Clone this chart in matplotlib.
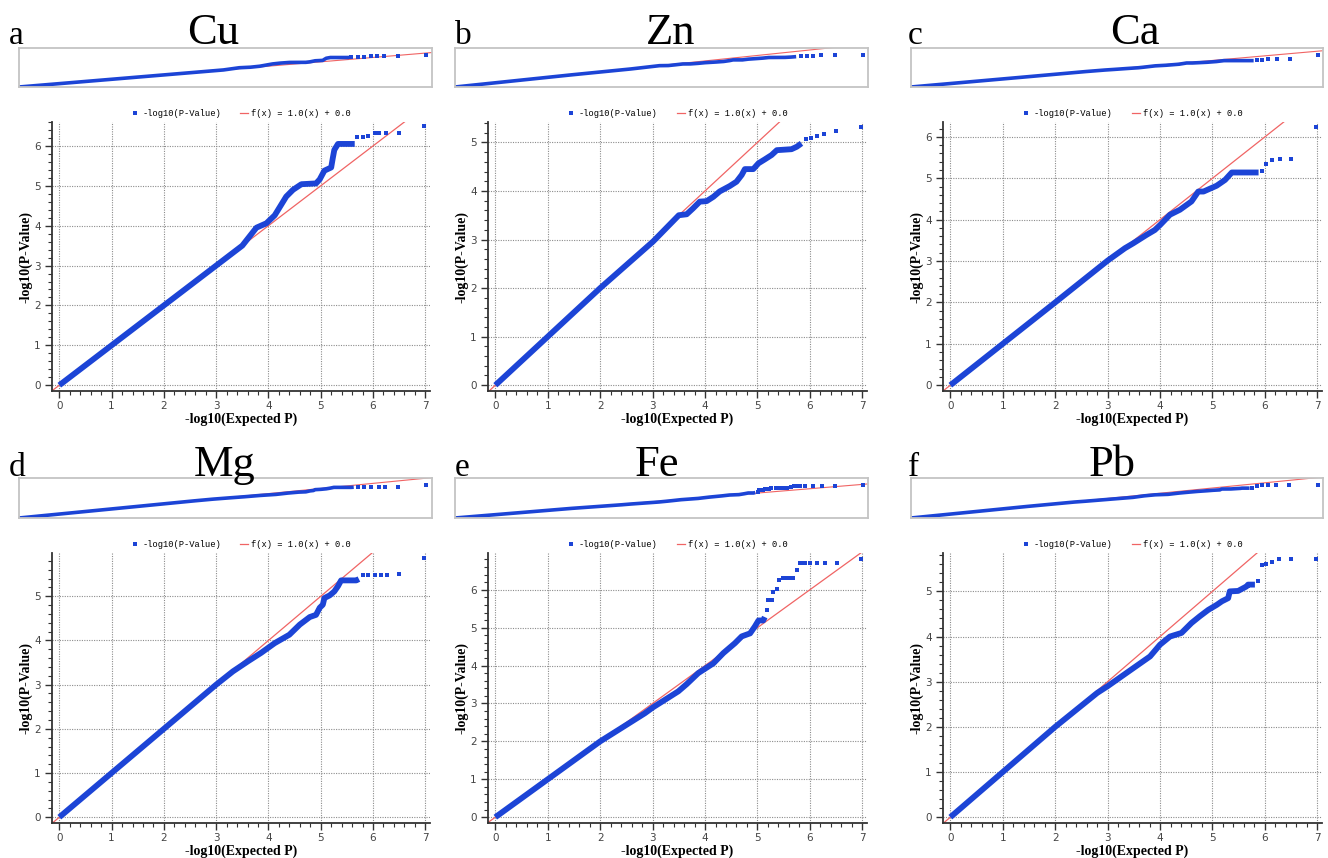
import matplotlib.pyplot as plt
from matplotlib.lines import Line2D
from matplotlib.ticker import MultipleLocator

cu_x = [0, 1, 2, 3, 3.5, 3.77, 3.96, 4.12, 4.34, 4.47, 4.63, 4.91, 4.98, 5.07, 5.2, 5.23, 5.26, 5.33, 5.65]
cu_y = [0, 1, 2, 3, 3.5, 3.95, 4.06, 4.26, 4.73, 4.9, 5.04, 5.06, 5.16, 5.38, 5.46, 5.69, 5.9, 6.05, 6.05]
cu_tail_x = [5.69, 5.8, 5.9, 6.03, 6.12, 6.25, 6.49, 6.97]
cu_tail_y = [6.22, 6.23, 6.25, 6.32, 6.32, 6.32, 6.32, 6.49]

zn_x = [0, 1, 2, 3.01, 3.5, 3.65, 3.77, 3.9, 4.03, 4.16, 4.28, 4.47, 4.6, 4.7, 4.76, 4.92, 5.02, 5.14, 5.27, 5.37, 5.65, 5.75, 5.84]
zn_y = [0, 1, 2, 2.96, 3.5, 3.52, 3.64, 3.78, 3.79, 3.88, 3.99, 4.1, 4.19, 4.33, 4.45, 4.45, 4.57, 4.65, 4.74, 4.84, 4.86, 4.91, 4.98]
zn_tail_x = [5.93, 6.02, 6.13, 6.27, 6.5, 6.98]
zn_tail_y = [5.08, 5.1, 5.14, 5.18, 5.24, 5.31]

ca_x = [0, 1, 2, 3, 3.33, 3.49, 3.74, 3.9, 4.0, 4.19, 4.38, 4.6, 4.73, 4.83, 5.08, 5.24, 5.37, 5.88]
ca_y = [0, 1, 2, 3.01, 3.31, 3.43, 3.63, 3.75, 3.87, 4.12, 4.24, 4.44, 4.68, 4.68, 4.82, 4.96, 5.14, 5.14]
ca_tail_x = [5.94, 6.02, 6.13, 6.28, 6.5, 6.98]
ca_tail_y = [5.18, 5.34, 5.44, 5.46, 5.46, 6.23]

mg_x = [0, 1, 2, 3, 3.32, 3.61, 3.86, 4.12, 4.4, 4.6, 4.79, 4.91, 4.98, 5.04, 5.07, 5.17, 5.26, 5.33, 5.39, 5.68, 5.73]
mg_y = [0, 1, 2, 3, 3.3, 3.53, 3.72, 3.94, 4.13, 4.36, 4.53, 4.58, 4.74, 4.81, 4.96, 5.02, 5.11, 5.23, 5.36, 5.36, 5.39]
mg_tail_x = [5.8, 5.9, 6.03, 6.16, 6.27, 6.49, 6.97]
mg_tail_y = [5.49, 5.49, 5.49, 5.49, 5.49, 5.51, 5.86]

fe_x = [0, 1, 2, 2.85, 3.01, 3.49, 3.65, 3.87, 4.16, 4.35, 4.57, 4.7, 4.86, 4.95, 5.02, 5.11, 5.14]
fe_y = [0, 1, 2, 2.74, 2.9, 3.32, 3.51, 3.8, 4.06, 4.33, 4.59, 4.77, 4.85, 5.03, 5.19, 5.19, 5.28]
fe_tail_x = [5.18, 5.21, 5.27, 5.3, 5.37, 5.41, 5.49, 5.55, 5.62, 5.68, 5.75, 5.81, 5.86, 5.91, 6.0, 6.13, 6.28, 6.51, 6.98]
fe_tail_y = [5.47, 5.72, 5.73, 5.95, 6.02, 6.26, 6.31, 6.31, 6.31, 6.31, 6.53, 6.7, 6.7, 6.7, 6.7, 6.7, 6.7, 6.7, 6.82]

pb_x = [0, 1, 2, 2.8, 3.0, 3.49, 3.81, 4.0, 4.19, 4.41, 4.6, 4.76, 4.92, 5.08, 5.18, 5.3, 5.33, 5.49, 5.65, 5.68, 5.81]
pb_y = [0, 1, 2, 2.75, 2.9, 3.3, 3.56, 3.82, 4.0, 4.08, 4.3, 4.45, 4.59, 4.7, 4.78, 4.85, 5.0, 5.01, 5.11, 5.15, 5.15]
pb_tail_x = [5.86, 5.94, 6.02, 6.13, 6.27, 6.49, 6.98]
pb_tail_y = [5.24, 5.59, 5.61, 5.66, 5.72, 5.72, 5.72]

letters = ['a', 'b', 'c', 'd', 'e', 'f']
elements = ['Cu', 'Zn', 'Ca', 'Mg', 'Fe', 'Pb']
y_tops = [6.6, 5.42, 6.36, 5.98, 6.97, 5.85]
strip_tops = [8.0, 6.4, 7.6, 7.0, 8.3, 6.9]
title_x = [213, 671, 1135, 225, 657, 1112]

series = [(cu_x, cu_y, cu_tail_x, cu_tail_y),
          (zn_x, zn_y, zn_tail_x, zn_tail_y),
          (ca_x, ca_y, ca_tail_x, ca_tail_y),
          (mg_x, mg_y, mg_tail_x, mg_tail_y),
          (fe_x, fe_y, fe_tail_x, fe_tail_y),
          (pb_x, pb_y, pb_tail_x, pb_tail_y)]

BLUE = '#1c44d6'
RED = '#f06464'
W, H = 1328, 858

fig = plt.figure(figsize=(13.28, 8.58), dpi=100)

def px_axes(left, top, right, bottom):
    # place an axes using pixel edges of the picture
    return fig.add_axes([left / W, 1 - bottom / H, (right - left) / W, (bottom - top) / H])

main_left = [52, 488, 943]
main_right = [430, 867, 1322]
main_top = [122, 553]
main_bottom = [391, 823]
strip_left = [19, 455, 911]
strip_right = [432, 868, 1323]
strip_top_px = [48, 478]
strip_bottom_px = [87, 518]

for i in range(6):
    row, col = divmod(i, 3)
    bx, by, tx, ty = series[i]

    # small overview strip
    sa = px_axes(strip_left[col], strip_top_px[row], strip_right[col], strip_bottom_px[row])
    sa.plot([0, 9], [0, 9], color=RED, lw=0.8, zorder=1)
    sa.plot(bx, by, color=BLUE, lw=2.6, solid_capstyle='butt', zorder=2)
    sa.plot(tx, ty, 's', color=BLUE, ms=2.2, mew=0, zorder=2)
    sa.set_xlim(0, 7.07)
    sa.set_ylim(0, strip_tops[i])
    sa.set_xticks([])
    sa.set_yticks([])
    for sp in sa.spines.values():
        sp.set_color('#c4c4c4')
        sp.set_linewidth(1.3)

    # main QQ plot
    ax = px_axes(main_left[col], main_top[row], main_right[col], main_bottom[row])
    ax.plot([-1, 9], [-1, 9], color=RED, lw=0.9, zorder=1)
    ax.plot(bx, by, color=BLUE, lw=4.2, solid_capstyle='butt', zorder=2)
    ax.plot(tx, ty, 's', color=BLUE, ms=3.4, mew=0, zorder=2)
    ax.set_xlim(-0.14, 7.09)
    ax.set_ylim(-0.022 * y_tops[i], y_tops[i])
    ax.xaxis.set_major_locator(MultipleLocator(1))
    ax.yaxis.set_major_locator(MultipleLocator(1))
    ax.xaxis.set_minor_locator(MultipleLocator(0.2))
    ax.yaxis.set_minor_locator(MultipleLocator(0.2))
    ax.grid(True, which='major', color='#8c8c8c', linestyle=(0, (1, 1.2)), linewidth=0.8)
    ax.set_axisbelow(True)
    for s in ['top', 'right']:
        ax.spines[s].set_visible(False)
    for s in ['left', 'bottom']:
        ax.spines[s].set_color('#333333')
        ax.spines[s].set_linewidth(1.3)
    ax.tick_params(which='major', direction='out', length=5, width=1, color='#333333',
                   labelsize=7.5, labelcolor='#444444')
    ax.tick_params(axis='x', which='major', pad=2)
    ax.tick_params(axis='y', which='major', pad=3)
    ax.tick_params(which='minor', direction='out', length=3, width=0.8, color='#333333')
    ax.set_xlabel('-log10(Expected P)', family='Liberation Serif', fontweight='bold',
                  fontsize=10, va='center')
    ax.set_ylabel('-log10(P-Value)', family='Liberation Serif', fontweight='bold',
                  fontsize=10, va='center')
    ax.xaxis.set_label_coords(0.5, -28.5 / 268)
    ax.yaxis.set_label_coords(-26 / 378, 0.5)

    handles = [Line2D([], [], marker='s', color=BLUE, ls='none', ms=3.4, mew=0),
               Line2D([], [], color=RED, lw=0.9)]
    ax.legend(handles, ['-log10(P-Value)', 'f(x) = 1.0(x) + 0.0'], loc='lower center',
              bbox_to_anchor=(0.5, 1.0), ncol=2, frameon=False, borderaxespad=0.1,
              handlelength=0.9, handletextpad=0.4, columnspacing=2.2,
              prop={'family': 'Liberation Mono', 'size': 6.3})

    # panel letter and element name
    base_y = [44, 476][row]
    fig.text([9, 455, 908][col] / W, 1 - base_y / H, letters[i], family='Liberation Serif',
             fontsize=24, va='baseline', ha='left')
    fig.text(title_x[i] / W, 1 - base_y / H, elements[i], family='Liberation Serif',
             fontsize=32, va='baseline', ha='center')

fig.savefig('out.png', dpi=100)
